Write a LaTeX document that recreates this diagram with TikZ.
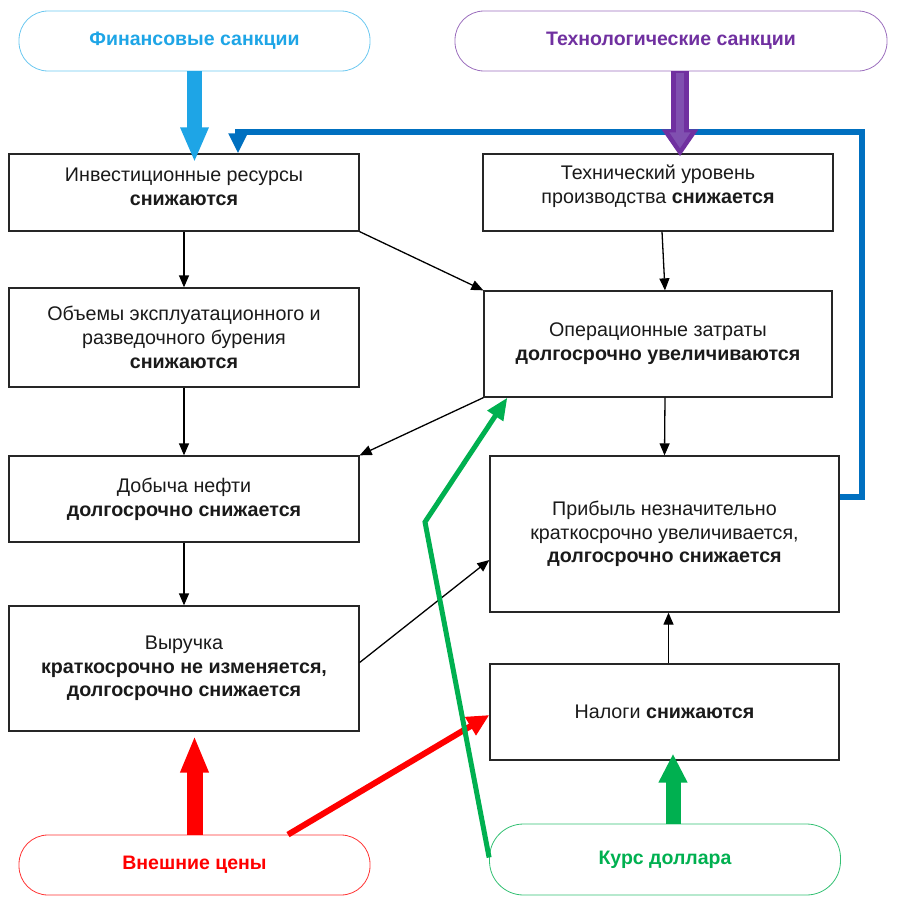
\documentclass[tikz,border=0pt]{standalone}
\usepackage{fontspec}
\setmainfont{Liberation Sans}
\usetikzlibrary{arrows.meta,calc}
\definecolor{finblue}{HTML}{1EA5E6}
\definecolor{finline}{HTML}{6CC8F0}
\definecolor{techpur}{HTML}{7030A0}
\definecolor{techfill}{HTML}{8050B0}
\definecolor{extred}{HTML}{FF0000}
\definecolor{usdgreen}{HTML}{00B050}
\definecolor{fbblue}{HTML}{0070C0}
\definecolor{txt}{HTML}{1A1A1A}
\tikzset{
  boxst/.style={draw=black!85, line width=1.3pt, inner sep=0pt, minimum width=350pt},
  boxtext/.style={align=center, text=txt, font=\fontsize{19.7}{23.7}\selectfont, inner sep=0pt},
  pill/.style={draw, line width=0.8pt, rounded corners=29pt, minimum width=351pt, minimum height=60pt, font=\bfseries\fontsize{19.5}{22}\selectfont, inner sep=0pt},
  blk/.style={draw=black, line width=1.3pt, -{Triangle[width=10pt,length=12pt]}},
}
\begin{document}
\begin{tikzpicture}[x=1pt,y=-1pt]
\useasboundingbox (0,0) rectangle (918,910);
% pills
\node[pill, draw=finline, text=finblue] (fin) at (194.5,41) {Финансовые санкции};
\node[pill, draw=techpur!70, text=techpur, minimum width=432pt] (tech) at (671,41) {Технологические санкции};
\node[pill, draw=extred!80, text=extred] (ext) at (194.5,865) {Внешние цены};
\node[pill, draw=usdgreen!80, text=usdgreen, minimum height=71pt, rounded corners=34pt] (usd) at (665,859.5) {Курс доллара};
% boxes
\node[boxst, minimum height=77pt] (b1) at (184,192.5) {};
\node[boxtext] at ($(b1.center)+(0,-6)$) {Инвестиционные ресурсы\\\textbf{снижаются}};
\node[boxst, minimum height=99pt, boxtext] (b2) at (184,337.5) {Объемы эксплуатационного и\\разведочного бурения\\\textbf{снижаются}};
\node[boxst, minimum height=86pt, boxtext] (b3) at (184,499) {Добыча нефти\\\textbf{долгосрочно снижается}};
\node[boxst, minimum height=125pt, boxtext] (b4) at (184,668.5) {Выручка\\\textbf{краткосрочно не изменяется,}\\\textbf{долгосрочно снижается}};
\node[boxst, minimum height=77pt] (b5) at (658,192.5) {};
\node[boxtext] at ($(b5.center)+(0,-6)$) {Технический уровень\\производства \textbf{снижается}};
\node[boxst, minimum width=348pt, minimum height=106pt, boxtext] (b6) at (658,344) {Операционные затраты\\\textbf{долгосрочно увеличиваются}};
\node[boxst, minimum width=349pt, minimum height=156pt, boxtext] (b7) at (664.5,534) {Прибыль незначительно\\краткосрочно увеличивается,\\\textbf{долгосрочно снижается}};
\node[boxst, minimum width=349pt, minimum height=96pt, boxtext] (b8) at (664.5,712) {Налоги \textbf{снижаются}};
% thin black connectors
\draw[blk] (b1.south) -- (b2.north);
\draw[blk] (b2.south) -- (b3.north);
\draw[blk] (b3.south) -- (b4.north);
\draw[blk] (b1.south east) -- (b6.north west);
\draw[blk] ($(b5.south)+(4,0)$) -- ($(b6.north)+(7,0)$);
\draw[blk] (b6.south west) -- (b3.north east);
\draw[blk] ($(b6.south)+(7,0)$) -- (b7.north);
\draw[blk] ($(b4.east)+(0,-6)$) -- ($(b7.west)+(0,26)$);
\draw[blk] ($(b8.north)+(4,0)$) -- ($(b7.south)+(4,0)$);
% feedback loop
\coordinate (fbr) at (862,497);
\coordinate (fbt) at (862,132);
\draw[fbblue, line width=6pt, line join=miter, -{Triangle[width=18pt,length=20pt]}]
  ($(b7.east)+(0,-37)$) -- (fbr) -- (fbt) -| ($(b1.north)+(54,0)$);
% block arrows
\draw[finblue, line width=15pt, -{Triangle[width=26pt,length=35pt]}, shorten >=-9pt] (fin.south) -- (fin.south |- b1.north);
\draw[techpur, line width=18pt, -{Triangle[width=35pt,length=27pt]}, shorten >=-3pt] ($(tech.south)+(9,0)$) -- ($(tech.south |- b5.north)+(9,0)$);
\draw[techfill, line width=8pt, -{Triangle[width=20pt,length=16pt]}, shorten >=5pt] ($(tech.south)+(9,2)$) -- ($(tech.south |- b5.north)+(9,0)$);
\draw[extred, line width=16pt, -{Triangle[width=26pt,length=37pt]}, shorten >=4pt] (ext.north) -- (ext.north |- b4.south);
\draw[usdgreen, line width=15pt, -{Triangle[width=27pt,length=29pt]}, shorten >=-7pt] ($(usd.north)+(8,0)$) -- ($(usd.north |- b8.south)+(8,0)$);
% thin coloured connectors
\draw[extred, line width=6pt, -{Triangle[width=20pt,length=22pt]}] ($(ext.north)+(93.5,0)$) -- ($(b8.west)+(0,3)$);
\coordinate (gk) at (425,522);
\draw[usdgreen, line width=5pt, line join=miter, -{Triangle[width=18pt,length=22pt]}] ($(usd.west)+(0,-2)$) -- (gk) -- ($(b6.south west)+(24,0)$);
\end{tikzpicture}
\end{document}
